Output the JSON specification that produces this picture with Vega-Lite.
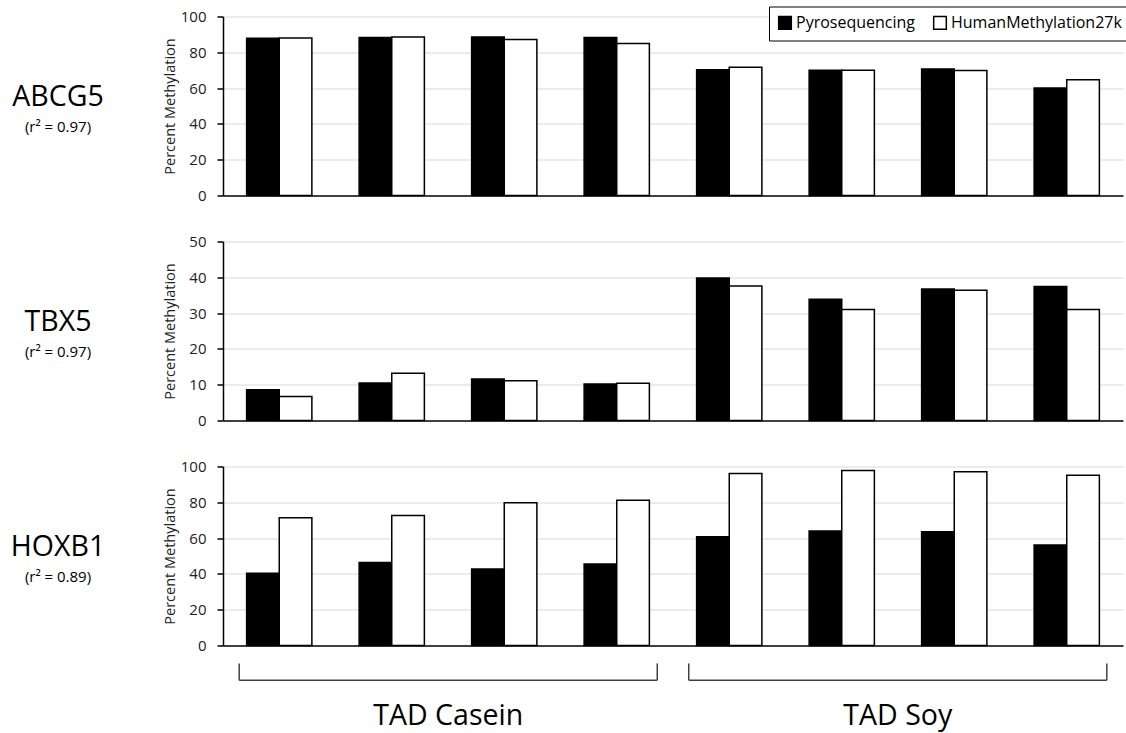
{
  "$schema": "https://vega.github.io/schema/vega-lite/v6.json",
  "padding": {"left": 5, "top": 5.5, "right": 0, "bottom": 4},
  "background": "white",
  "config": {
    "view": {"stroke": null},
    "font": "Open Sans",
    "axis": {"labelFont": "Open Sans", "titleFont": "Open Sans"},
    "legend": {"labelFont": "Open Sans"},
    "text": {"font": "Open Sans"}
  },
  "datasets": {
    "meth": [
      {"gene": "ABCG5", "sample": "C1", "method": "Pyrosequencing", "value": 87.9},
      {"gene": "ABCG5", "sample": "C2", "method": "Pyrosequencing", "value": 88.2},
      {"gene": "ABCG5", "sample": "C3", "method": "Pyrosequencing", "value": 88.6},
      {"gene": "ABCG5", "sample": "C4", "method": "Pyrosequencing", "value": 88.2},
      {"gene": "ABCG5", "sample": "S1", "method": "Pyrosequencing", "value": 70.3},
      {"gene": "ABCG5", "sample": "S2", "method": "Pyrosequencing", "value": 70.0},
      {"gene": "ABCG5", "sample": "S3", "method": "Pyrosequencing", "value": 70.7},
      {"gene": "ABCG5", "sample": "S4", "method": "Pyrosequencing", "value": 60.0},
      {"gene": "ABCG5", "sample": "C1", "method": "HumanMethylation27k", "value": 88.0},
      {"gene": "ABCG5", "sample": "C2", "method": "HumanMethylation27k", "value": 88.6},
      {"gene": "ABCG5", "sample": "C3", "method": "HumanMethylation27k", "value": 87.1},
      {"gene": "ABCG5", "sample": "C4", "method": "HumanMethylation27k", "value": 84.9},
      {"gene": "ABCG5", "sample": "S1", "method": "HumanMethylation27k", "value": 71.6},
      {"gene": "ABCG5", "sample": "S2", "method": "HumanMethylation27k", "value": 70.0},
      {"gene": "ABCG5", "sample": "S3", "method": "HumanMethylation27k", "value": 69.8},
      {"gene": "ABCG5", "sample": "S4", "method": "HumanMethylation27k", "value": 64.7},
      {"gene": "TBX5", "sample": "C1", "method": "Pyrosequencing", "value": 8.6},
      {"gene": "TBX5", "sample": "C2", "method": "Pyrosequencing", "value": 10.5},
      {"gene": "TBX5", "sample": "C3", "method": "Pyrosequencing", "value": 11.6},
      {"gene": "TBX5", "sample": "C4", "method": "Pyrosequencing", "value": 10.2},
      {"gene": "TBX5", "sample": "S1", "method": "Pyrosequencing", "value": 39.8},
      {"gene": "TBX5", "sample": "S2", "method": "Pyrosequencing", "value": 33.9},
      {"gene": "TBX5", "sample": "S3", "method": "Pyrosequencing", "value": 36.7},
      {"gene": "TBX5", "sample": "S4", "method": "Pyrosequencing", "value": 37.4},
      {"gene": "TBX5", "sample": "C1", "method": "HumanMethylation27k", "value": 6.7},
      {"gene": "TBX5", "sample": "C2", "method": "HumanMethylation27k", "value": 13.2},
      {"gene": "TBX5", "sample": "C3", "method": "HumanMethylation27k", "value": 11.1},
      {"gene": "TBX5", "sample": "C4", "method": "HumanMethylation27k", "value": 10.4},
      {"gene": "TBX5", "sample": "S1", "method": "HumanMethylation27k", "value": 37.6},
      {"gene": "TBX5", "sample": "S2", "method": "HumanMethylation27k", "value": 31.0},
      {"gene": "TBX5", "sample": "S3", "method": "HumanMethylation27k", "value": 36.4},
      {"gene": "TBX5", "sample": "S4", "method": "HumanMethylation27k", "value": 31.0},
      {"gene": "HOXB1", "sample": "C1", "method": "Pyrosequencing", "value": 40.4},
      {"gene": "HOXB1", "sample": "C2", "method": "Pyrosequencing", "value": 46.4},
      {"gene": "HOXB1", "sample": "C3", "method": "Pyrosequencing", "value": 42.8},
      {"gene": "HOXB1", "sample": "C4", "method": "Pyrosequencing", "value": 45.6},
      {"gene": "HOXB1", "sample": "S1", "method": "Pyrosequencing", "value": 60.7},
      {"gene": "HOXB1", "sample": "S2", "method": "Pyrosequencing", "value": 63.9},
      {"gene": "HOXB1", "sample": "S3", "method": "Pyrosequencing", "value": 63.5},
      {"gene": "HOXB1", "sample": "S4", "method": "Pyrosequencing", "value": 56.2},
      {"gene": "HOXB1", "sample": "C1", "method": "HumanMethylation27k", "value": 71.3},
      {"gene": "HOXB1", "sample": "C2", "method": "HumanMethylation27k", "value": 72.6},
      {"gene": "HOXB1", "sample": "C3", "method": "HumanMethylation27k", "value": 79.7},
      {"gene": "HOXB1", "sample": "C4", "method": "HumanMethylation27k", "value": 81.2},
      {"gene": "HOXB1", "sample": "S1", "method": "HumanMethylation27k", "value": 96.1},
      {"gene": "HOXB1", "sample": "S2", "method": "HumanMethylation27k", "value": 97.8},
      {"gene": "HOXB1", "sample": "S3", "method": "HumanMethylation27k", "value": 97.0},
      {"gene": "HOXB1", "sample": "S4", "method": "HumanMethylation27k", "value": 95.1}
    ],
    "genes": [
      {"gene": "ABCG5", "r2": "(r² = 0.97)"},
      {"gene": "TBX5", "r2": "(r² = 0.97)"},
      {"gene": "HOXB1", "r2": "(r² = 0.89)"}
    ],
    "groups": [
      {"group": "TAD Casein"},
      {"group": "TAD Soy"}
    ]
  },
  "columns": 2,
  "align": "each",
  "spacing": {"row": 31, "column": 51},
  "resolve": {"scale": {"color": "independent"}, "legend": {"color": "independent"}},
  "concat": [
    {
      "width": 106, "height": 179,
      "data": {"name": "genes"},
      "transform": [{"filter": "datum.gene === 'ABCG5'"}],
      "layer": [
        {"mark": {"type": "text", "fontSize": 28.5, "baseline": "alphabetic", "color": "black"}, "encoding": {"text": {"field": "gene"}}},
        {"mark": {"type": "text", "fontSize": 15, "baseline": "middle", "dy": 20.5, "color": "black"}, "encoding": {"text": {"field": "r2"}}}
      ]
    },
    {
      "width": 900, "height": 179,
      "data": {"name": "meth"},
      "transform": [{"filter": "datum.gene === 'ABCG5'"}],
      "mark": {"type": "bar", "stroke": "black", "strokeWidth": 1.5},
      "encoding": {
        "x": {"field": "sample", "type": "nominal", "scale": {"domain": ["C1", "C2", "C3", "C4", "S1", "S2", "S3", "S4"], "paddingInner": 0.42, "paddingOuter": 0.21}, "axis": {"labels": false, "ticks": false, "title": null, "grid": false, "domainColor": "#404040", "domainWidth": 2}},
        "xOffset": {"field": "method", "type": "nominal", "scale": {"domain": ["Pyrosequencing", "HumanMethylation27k"]}},
        "y": {"field": "value", "type": "quantitative", "scale": {"domain": [0, 100], "nice": false}, "axis": {"values": [0, 20, 40, 60, 80, 100], "tickSize": 6, "tickColor": "black", "tickWidth": 1.5, "domainColor": "black", "domainWidth": 1.5, "labelFontSize": 15, "labelColor": "#222222", "labelPadding": 11, "minExtent": 44, "maxExtent": 44, "title": "Percent Methylation", "titleFontSize": 14.5, "titleFontWeight": "normal", "titleColor": "#222222", "titlePadding": 2, "gridColor": "#d9d9d9", "gridWidth": 1.2}},
        "color": {"field": "method", "type": "nominal", "scale": {"domain": ["Pyrosequencing", "HumanMethylation27k"], "range": ["black", "white"]}, "legend": {"orient": "none", "legendX": 546, "legendY": -10, "direction": "horizontal", "columns": 2, "title": null, "strokeColor": "black", "padding": 8, "fillColor": "white", "symbolType": "square", "symbolSize": 160, "symbolStrokeColor": "black", "symbolStrokeWidth": 1.5, "symbolOpacity": 1, "labelFontSize": 16, "labelColor": "black", "labelOffset": 3, "columnPadding": 14, "labelLimit": 400}}
      }
    },
    {
      "width": 106, "height": 179,
      "data": {"name": "genes"},
      "transform": [{"filter": "datum.gene === 'TBX5'"}],
      "layer": [
        {"mark": {"type": "text", "fontSize": 28.5, "baseline": "alphabetic", "color": "black"}, "encoding": {"text": {"field": "gene"}}},
        {"mark": {"type": "text", "fontSize": 15, "baseline": "middle", "dy": 20.5, "color": "black"}, "encoding": {"text": {"field": "r2"}}}
      ]
    },
    {
      "width": 900, "height": 179,
      "data": {"name": "meth"},
      "transform": [{"filter": "datum.gene === 'TBX5'"}],
      "mark": {"type": "bar", "stroke": "black", "strokeWidth": 1.5},
      "encoding": {
        "x": {"field": "sample", "type": "nominal", "scale": {"domain": ["C1", "C2", "C3", "C4", "S1", "S2", "S3", "S4"], "paddingInner": 0.42, "paddingOuter": 0.21}, "axis": {"labels": false, "ticks": false, "title": null, "grid": false, "domainColor": "#404040", "domainWidth": 2}},
        "xOffset": {"field": "method", "type": "nominal", "scale": {"domain": ["Pyrosequencing", "HumanMethylation27k"]}},
        "y": {"field": "value", "type": "quantitative", "scale": {"domain": [0, 50], "nice": false}, "axis": {"values": [0, 10, 20, 30, 40, 50], "tickSize": 6, "tickColor": "black", "tickWidth": 1.5, "domainColor": "black", "domainWidth": 1.5, "labelFontSize": 15, "labelColor": "#222222", "labelPadding": 11, "minExtent": 44, "maxExtent": 44, "title": "Percent Methylation", "titleFontSize": 14.5, "titleFontWeight": "normal", "titleColor": "#222222", "titlePadding": 2, "gridColor": "#d9d9d9", "gridWidth": 1.2}},
        "color": {"field": "method", "type": "nominal", "scale": {"domain": ["Pyrosequencing", "HumanMethylation27k"], "range": ["black", "white"]}, "legend": null}
      }
    },
    {
      "width": 106, "height": 179,
      "data": {"name": "genes"},
      "transform": [{"filter": "datum.gene === 'HOXB1'"}],
      "layer": [
        {"mark": {"type": "text", "fontSize": 28.5, "baseline": "alphabetic", "color": "black"}, "encoding": {"text": {"field": "gene"}}},
        {"mark": {"type": "text", "fontSize": 15, "baseline": "middle", "dy": 20.5, "color": "black"}, "encoding": {"text": {"field": "r2"}}}
      ]
    },
    {
      "width": 900, "height": 179,
      "layer": [
        {
          "data": {"name": "meth"},
          "transform": [{"filter": "datum.gene === 'HOXB1'"}],
          "mark": {"type": "bar", "stroke": "black", "strokeWidth": 1.5},
          "encoding": {
            "x": {"field": "sample", "type": "nominal", "scale": {"domain": ["C1", "C2", "C3", "C4", "S1", "S2", "S3", "S4"], "paddingInner": 0.42, "paddingOuter": 0.21}, "axis": {"labels": false, "ticks": false, "title": null, "grid": false, "domainColor": "#404040", "domainWidth": 2}},
            "xOffset": {"field": "method", "type": "nominal", "scale": {"domain": ["Pyrosequencing", "HumanMethylation27k"]}},
            "y": {"field": "value", "type": "quantitative", "scale": {"domain": [0, 100], "nice": false}, "axis": {"values": [0, 20, 40, 60, 80, 100], "tickSize": 6, "tickColor": "black", "tickWidth": 1.5, "domainColor": "black", "domainWidth": 1.5, "labelFontSize": 15, "labelColor": "#222222", "labelPadding": 11, "minExtent": 44, "maxExtent": 44, "title": "Percent Methylation", "titleFontSize": 14.5, "titleFontWeight": "normal", "titleColor": "#222222", "titlePadding": 2, "gridColor": "#d9d9d9", "gridWidth": 1.2}},
            "color": {"field": "method", "type": "nominal", "scale": {"domain": ["Pyrosequencing", "HumanMethylation27k"], "range": ["black", "white"]}, "legend": null}
          }
        },
        {
          "data": {"name": "groups"},
          "layer": [
            {
              "mark": {"type": "rule", "color": "#404040", "strokeWidth": 1.5},
              "encoding": {
                "x": {"field": "group", "type": "nominal", "bandPosition": 0, "scale": {"domain": ["TAD Casein", "TAD Soy"], "paddingInner": 0.07, "paddingOuter": 0.036}, "axis": {"orient": "bottom", "title": null, "domain": false, "ticks": false, "grid": false, "labelFontSize": 28.5, "labelColor": "black", "labelPadding": 56, "labelAngle": 0}},
                "y": {"datum": -10, "type": "quantitative", "scale": {"domain": [0, 100], "nice": false}, "axis": {"values": [0, 20, 40, 60, 80, 100], "tickSize": 6, "tickColor": "black", "tickWidth": 1.5, "domainColor": "black", "domainWidth": 1.5, "labelFontSize": 15, "labelColor": "#222222", "labelPadding": 11, "minExtent": 44, "maxExtent": 44, "title": "Percent Methylation", "titleFontSize": 14.5, "titleFontWeight": "normal", "titleColor": "#222222", "titlePadding": 2, "gridColor": "#d9d9d9", "gridWidth": 1.2}},
                "y2": {"datum": -19.4}
              }
            },
            {
              "mark": {"type": "rule", "color": "#404040", "strokeWidth": 1.5},
              "encoding": {
                "x": {"field": "group", "type": "nominal", "bandPosition": 1},
                "y": {"datum": -10, "type": "quantitative", "scale": {"domain": [0, 100], "nice": false}, "axis": {"values": [0, 20, 40, 60, 80, 100], "tickSize": 6, "tickColor": "black", "tickWidth": 1.5, "domainColor": "black", "domainWidth": 1.5, "labelFontSize": 15, "labelColor": "#222222", "labelPadding": 11, "minExtent": 44, "maxExtent": 44, "title": "Percent Methylation", "titleFontSize": 14.5, "titleFontWeight": "normal", "titleColor": "#222222", "titlePadding": 2, "gridColor": "#d9d9d9", "gridWidth": 1.2}},
                "y2": {"datum": -19.4}
              }
            },
            {
              "mark": {"type": "bar", "color": "#404040"},
              "encoding": {
                "x": {"field": "group", "type": "nominal"},
                "y": {"datum": -19.0, "type": "quantitative", "scale": {"domain": [0, 100], "nice": false}, "axis": {"values": [0, 20, 40, 60, 80, 100], "tickSize": 6, "tickColor": "black", "tickWidth": 1.5, "domainColor": "black", "domainWidth": 1.5, "labelFontSize": 15, "labelColor": "#222222", "labelPadding": 11, "minExtent": 44, "maxExtent": 44, "title": "Percent Methylation", "titleFontSize": 14.5, "titleFontWeight": "normal", "titleColor": "#222222", "titlePadding": 2, "gridColor": "#d9d9d9", "gridWidth": 1.2}},
                "y2": {"datum": -19.8}
              }
            }
          ]
        }
      ],
      "resolve": {"scale": {"x": "independent"}, "axis": {"x": "independent"}}
    }
  ]
}
